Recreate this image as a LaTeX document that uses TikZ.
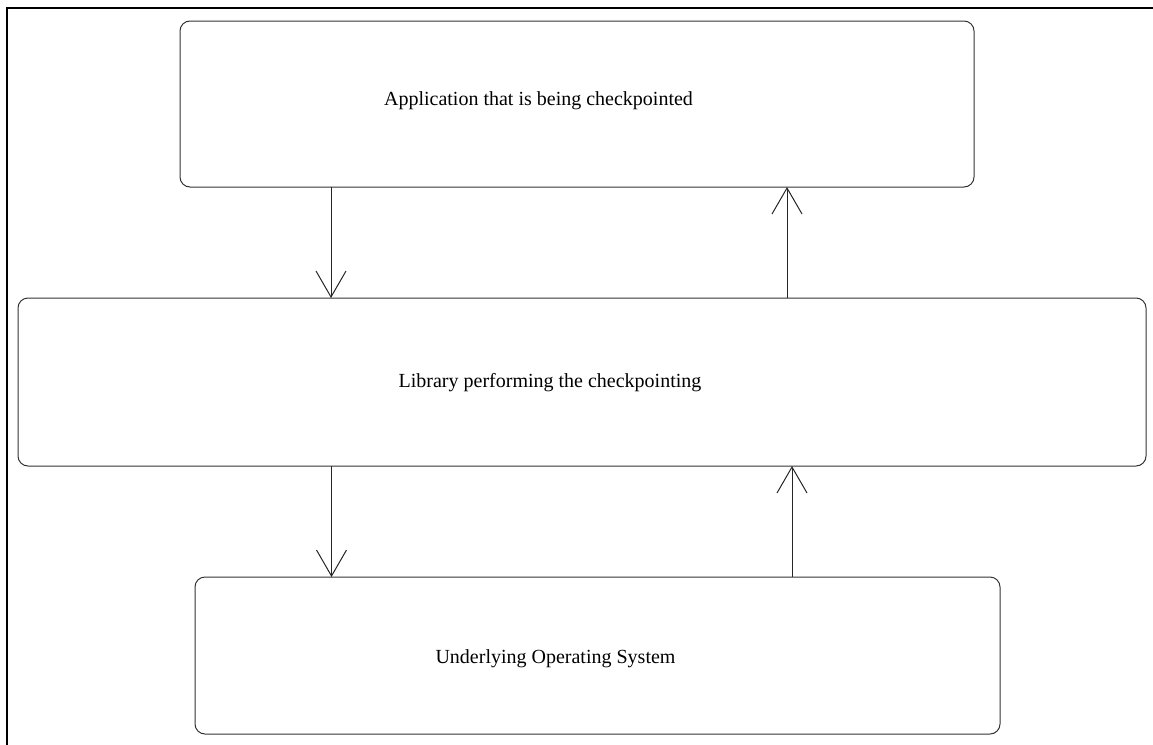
\documentclass[tikz,border=0pt]{standalone}
\usepackage{fontspec}
\setmainfont{Liberation Serif}
\usetikzlibrary{arrows.meta}
\begin{document}
\begin{tikzpicture}[x=1pt,y=-1pt,
  box/.style={draw=black!80, line width=1pt, rounded corners=10pt, inner sep=0pt, outer sep=0pt},
  lbl/.style={inner sep=0pt, font=\fontsize{20}{24}\selectfont},
  arr/.style={draw=black!85, line width=1pt, -{Straight Barb[length=26pt,width=30pt,line width=1pt]}},
  frame/.style={line width=2.2pt, line cap=rect}]
\useasboundingbox (0,0) rectangle (1153,744);
\draw[frame] (7,745) -- (7,8) -- (1154,8);
\node[box, minimum width=794pt, minimum height=166pt] (app) at (577,104) {};
\node[box, minimum width=1128pt, minimum height=168pt] (lib) at (582,382) {};
\node[box, minimum width=805pt, minimum height=157pt] (os) at (597.5,655.5) {};
\node[lbl] (tapp) at (538.5,101) {Application that is being checkpointed};
\node[lbl] (tlib) at (550,383) {Library performing the checkpointing};
\node[lbl] (tos) at (555.5,659) {Underlying Operating System};
\coordinate (xa) at (331,0);
\coordinate (xb) at (787,0);
\coordinate (xc) at (331.5,0);
\coordinate (xd) at (792,0);
\draw[arr] (app.south -| xa) -- (lib.north -| xa);
\draw[arr] (lib.north -| xb) -- (app.south -| xb);
\draw[arr] (lib.south -| xc) -- (os.north -| xc);
\draw[arr] (os.north -| xd) -- (lib.south -| xd);
\end{tikzpicture}
\end{document}
